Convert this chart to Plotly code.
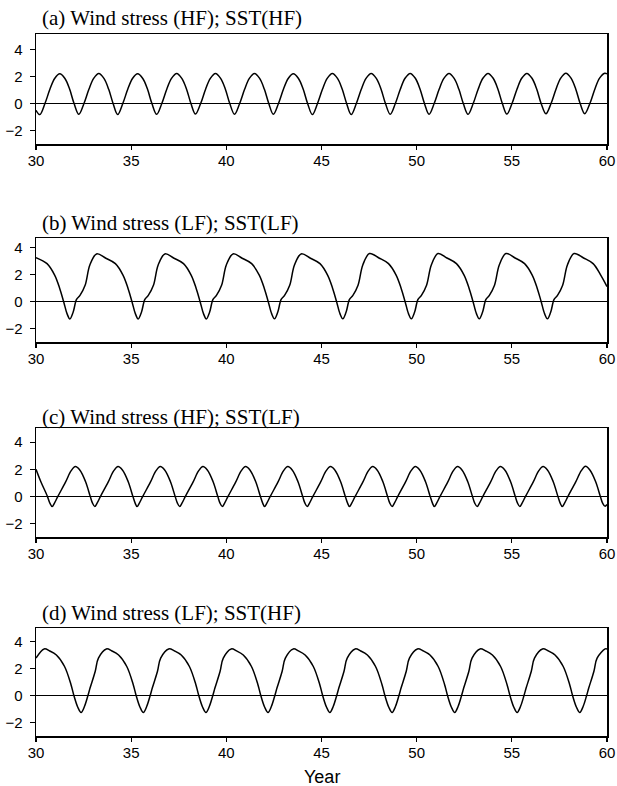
import plotly.graph_objects as go

# ---------------- data ----------------
titles = ["(a) Wind stress (HF); SST(HF)",
          "(b) Wind stress (LF); SST(LF)",
          "(c) Wind stress (HF); SST(LF)",
          "(d) Wind stress (LF); SST(HF)"]

x_ticks = [30, 35, 40, 45, 50, 55, 60]
y_ticks = [-2, 0, 2, 4]
x_label = "Year"

a_year = [30.0,
          30.2, 30.47, 30.73, 30.98, 31.25, 31.52, 31.77, 32.0,
          32.25, 32.52, 32.78, 33.03, 33.3, 33.57, 33.82, 34.05,
          34.29, 34.56, 34.82, 35.07, 35.34, 35.61, 35.86, 36.09,
          36.34, 36.61, 36.87, 37.12, 37.39, 37.66, 37.91, 38.14,
          38.38, 38.65, 38.91, 39.16, 39.43, 39.7, 39.95, 40.18,
          40.43, 40.7, 40.96, 41.21, 41.48, 41.75, 42.0, 42.23,
          42.47, 42.74, 43.0, 43.25, 43.52, 43.79, 44.04, 44.27,
          44.52, 44.79, 45.05, 45.3, 45.57, 45.84, 46.09, 46.32,
          46.56, 46.83, 47.09, 47.34, 47.61, 47.88, 48.13, 48.36,
          48.61, 48.88, 49.14, 49.39, 49.66, 49.93, 50.18, 50.41,
          50.65, 50.92, 51.18, 51.43, 51.7, 51.97, 52.22, 52.45,
          52.7, 52.97, 53.23, 53.48, 53.75, 54.02, 54.27, 54.5,
          54.74, 55.01, 55.27, 55.52, 55.79, 56.06, 56.31, 56.54,
          56.79, 57.06, 57.32, 57.57, 57.84, 58.11, 58.36, 58.59,
          58.83, 59.1, 59.36, 59.61, 59.88, 60.0]
a_val = [-0.5,
         -0.82, 0.0, 1.05, 1.85, 2.2, 1.85, 1.05, 0.0,
         -0.8, 0.0, 1.05, 1.86, 2.22, 1.86, 1.05, 0.0,
         -0.82, 0.0, 1.05, 1.85, 2.2, 1.85, 1.05, 0.0,
         -0.8, 0.0, 1.06, 1.86, 2.22, 1.86, 1.06, 0.0,
         -0.78, 0.0, 1.06, 1.86, 2.22, 1.86, 1.06, 0.0,
         -0.8, 0.0, 1.05, 1.86, 2.22, 1.86, 1.05, 0.0,
         -0.8, 0.0, 1.05, 1.85, 2.2, 1.85, 1.05, 0.0,
         -0.82, 0.0, 1.05, 1.86, 2.22, 1.86, 1.05, 0.0,
         -0.82, 0.0, 1.05, 1.86, 2.22, 1.86, 1.06, 0.0,
         -0.8, 0.0, 1.06, 1.87, 2.23, 1.87, 1.06, 0.0,
         -0.8, 0.0, 1.05, 1.86, 2.22, 1.86, 1.05, 0.0,
         -0.8, 0.0, 1.06, 1.87, 2.23, 1.87, 1.06, 0.0,
         -0.78, 0.0, 1.06, 1.87, 2.23, 1.87, 1.06, 0.0,
         -0.76, 0.0, 1.06, 1.88, 2.24, 1.88, 1.06, 0.0,
         -0.76, 0.0, 1.06, 1.88, 2.24, 2.2]

b_year = [30.0, 30.58, 30.98, 31.25, 31.45, 31.63, 31.78, 31.95, 32.13, 32.31, 32.58, 32.83, 33.18,
          33.67, 34.17, 34.57, 34.84, 35.04, 35.22, 35.37, 35.54, 35.72, 35.9, 36.17, 36.42, 36.77,
          37.25, 37.75, 38.15, 38.42, 38.62, 38.8, 38.95, 39.12, 39.3, 39.48, 39.75, 40.0, 40.35,
          40.83, 41.33, 41.73, 42.0, 42.2, 42.38, 42.53, 42.7, 42.88, 43.06, 43.33, 43.58, 43.93,
          44.42, 44.92, 45.32, 45.59, 45.79, 45.97, 46.12, 46.29, 46.47, 46.65, 46.92, 47.17, 47.52,
          48.02, 48.52, 48.92, 49.19, 49.39, 49.57, 49.72, 49.89, 50.07, 50.25, 50.52, 50.77, 51.12,
          51.59, 52.09, 52.49, 52.76, 52.96, 53.14, 53.29, 53.46, 53.64, 53.82, 54.09, 54.34, 54.69,
          55.17, 55.67, 56.07, 56.34, 56.54, 56.72, 56.87, 57.04, 57.22, 57.4, 57.67, 57.92, 58.27,
          58.77, 59.27, 59.67, 60.0]
b_val = [3.25, 2.8, 1.95, 0.95, 0.0, -0.9, -1.3, -0.8, 0.15, 0.45, 1.2, 2.7, 3.52,
         3.2, 2.8, 1.95, 0.95, 0.0, -0.9, -1.3, -0.8, 0.15, 0.45, 1.2, 2.7, 3.52,
         3.2, 2.8, 1.95, 0.95, 0.0, -0.9, -1.3, -0.8, 0.15, 0.45, 1.2, 2.7, 3.52,
         3.2, 2.8, 1.95, 0.95, 0.0, -0.9, -1.28, -0.8, 0.15, 0.45, 1.2, 2.7, 3.52,
         3.2, 2.8, 1.95, 0.95, 0.0, -0.9, -1.28, -0.8, 0.15, 0.45, 1.2, 2.7, 3.55,
         3.22, 2.8, 1.95, 0.95, 0.0, -0.9, -1.28, -0.8, 0.15, 0.45, 1.2, 2.7, 3.55,
         3.22, 2.8, 1.95, 0.95, 0.0, -0.9, -1.28, -0.8, 0.15, 0.45, 1.2, 2.7, 3.55,
         3.22, 2.8, 1.95, 0.95, 0.0, -0.9, -1.28, -0.8, 0.15, 0.45, 1.2, 2.7, 3.55,
         3.22, 2.8, 1.95, 1.1]

c_year = [30.0, 30.25, 30.6, 30.73,
          30.85, 30.97, 31.15, 31.55, 31.85, 32.07, 32.3, 32.6, 32.85, 32.97,
          33.09, 33.21, 33.39, 33.79, 34.09, 34.31, 34.54, 34.84, 35.09, 35.21,
          35.31, 35.43, 35.61, 36.01, 36.31, 36.53, 36.76, 37.06, 37.31, 37.43,
          37.55, 37.67, 37.85, 38.25, 38.55, 38.77, 39.0, 39.3, 39.55, 39.67,
          39.79, 39.91, 40.09, 40.49, 40.79, 41.01, 41.24, 41.54, 41.79, 41.91,
          42.01, 42.13, 42.31, 42.71, 43.01, 43.23, 43.46, 43.76, 44.01, 44.13,
          44.25, 44.37, 44.55, 44.95, 45.25, 45.47, 45.7, 46.0, 46.25, 46.37,
          46.47, 46.59, 46.77, 47.17, 47.47, 47.69, 47.92, 48.22, 48.47, 48.59,
          48.71, 48.83, 49.01, 49.41, 49.71, 49.93, 50.16, 50.46, 50.71, 50.83,
          50.93, 51.05, 51.23, 51.63, 51.93, 52.15, 52.38, 52.68, 52.93, 53.05,
          53.18, 53.3, 53.48, 53.88, 54.18, 54.4, 54.63, 54.93, 55.18, 55.3,
          55.42, 55.54, 55.72, 56.12, 56.42, 56.64, 56.87, 57.17, 57.42, 57.54,
          57.65, 57.77, 57.95, 58.35, 58.65, 58.87, 59.1, 59.4, 59.65, 59.77,
          59.89, 60.0]
c_val = [2.0, 1.1, 0.0, -0.5,
         -0.75, -0.5, 0.0, 1.05, 1.9, 2.2, 1.95, 1.1, 0.0, -0.5,
         -0.75, -0.5, 0.0, 1.05, 1.9, 2.2, 1.95, 1.1, 0.0, -0.5,
         -0.75, -0.5, 0.0, 1.05, 1.9, 2.2, 1.95, 1.1, 0.0, -0.5,
         -0.75, -0.5, 0.0, 1.05, 1.9, 2.2, 1.95, 1.1, 0.0, -0.5,
         -0.75, -0.5, 0.0, 1.05, 1.9, 2.2, 1.95, 1.1, 0.0, -0.5,
         -0.75, -0.5, 0.0, 1.05, 1.9, 2.2, 1.95, 1.1, 0.0, -0.5,
         -0.75, -0.5, 0.0, 1.05, 1.9, 2.2, 1.95, 1.1, 0.0, -0.5,
         -0.75, -0.5, 0.0, 1.05, 1.9, 2.2, 1.95, 1.1, 0.0, -0.5,
         -0.75, -0.5, 0.0, 1.05, 1.9, 2.2, 1.95, 1.1, 0.0, -0.5,
         -0.75, -0.5, 0.0, 1.05, 1.9, 2.2, 1.95, 1.1, 0.0, -0.5,
         -0.75, -0.5, 0.0, 1.05, 1.9, 2.2, 1.95, 1.1, 0.0, -0.5,
         -0.75, -0.5, 0.0, 1.05, 1.9, 2.2, 1.95, 1.1, 0.0, -0.5,
         -0.75, -0.5, 0.0, 1.05, 1.9, 2.22, 1.95, 1.1, 0.0, -0.5,
         -0.72, -0.6]

d_year = [30.0, 30.43, 30.72, 31.07, 31.5, 31.84, 31.99, 32.19, 32.37, 32.55, 32.73, 32.84, 33.11, 33.28, 33.7,
          33.99, 34.34, 34.77, 35.11, 35.26, 35.46, 35.64, 35.82, 36.0, 36.11, 36.38, 36.55, 36.97,
          37.28, 37.63, 38.06, 38.4, 38.55, 38.75, 38.93, 39.11, 39.29, 39.4, 39.67, 39.84, 40.26,
          40.54, 40.89, 41.32, 41.66, 41.81, 42.01, 42.19, 42.37, 42.55, 42.66, 42.93, 43.1, 43.52,
          43.79, 44.14, 44.57, 44.91, 45.06, 45.26, 45.44, 45.62, 45.8, 45.91, 46.18, 46.35, 46.77,
          47.06, 47.41, 47.84, 48.18, 48.33, 48.53, 48.71, 48.89, 49.07, 49.18, 49.45, 49.62, 50.04,
          50.35, 50.7, 51.13, 51.47, 51.62, 51.82, 52.0, 52.18, 52.36, 52.47, 52.74, 52.91, 53.33,
          53.63, 53.98, 54.41, 54.75, 54.9, 55.1, 55.28, 55.46, 55.64, 55.75, 56.02, 56.19, 56.61,
          56.92, 57.27, 57.7, 58.04, 58.19, 58.39, 58.57, 58.75, 58.93, 59.04, 59.31, 59.48, 59.9,
          60.0]
d_val = [2.77, 3.45, 3.3, 3.0, 2.15, 0.8, 0.0, -0.85, -1.26, -0.8, 0.0, 0.55, 1.78, 2.77, 3.45,
         3.3, 3.0, 2.15, 0.8, 0.0, -0.85, -1.26, -0.8, 0.0, 0.55, 1.78, 2.77, 3.45,
         3.3, 3.0, 2.15, 0.8, 0.0, -0.85, -1.26, -0.8, 0.0, 0.55, 1.78, 2.77, 3.45,
         3.3, 3.0, 2.15, 0.8, 0.0, -0.85, -1.26, -0.8, 0.0, 0.55, 1.78, 2.77, 3.45,
         3.3, 3.0, 2.15, 0.8, 0.0, -0.85, -1.26, -0.8, 0.0, 0.55, 1.78, 2.77, 3.45,
         3.3, 3.0, 2.15, 0.8, 0.0, -0.85, -1.26, -0.8, 0.0, 0.55, 1.78, 2.77, 3.45,
         3.3, 3.0, 2.15, 0.8, 0.0, -0.85, -1.26, -0.8, 0.0, 0.55, 1.78, 2.77, 3.45,
         3.3, 3.0, 2.15, 0.8, 0.0, -0.85, -1.26, -0.8, 0.0, 0.55, 1.78, 2.77, 3.45,
         3.3, 3.0, 2.15, 0.8, 0.0, -0.85, -1.26, -0.8, 0.0, 0.55, 1.78, 2.77, 3.45,
         3.45]

y_ranges = [[-3, 5.15], [-3, 4.7], [-3, 5.05], [-3, 5.0]]

# ---------------- figure ----------------
W, H = 617, 786
ML, MR = 36, 10
PW = W - ML - MR
# panel frames in page pixels (top, bottom)
frames = [(34, 144), (238, 342), (428, 537), (628, 736)]
title_y = [18, 223, 417, 613]

series = [(a_year, a_val), (b_year, b_val), (c_year, c_val), (d_year, d_val)]

fig = go.Figure()
tick_font = dict(family="Liberation Sans, Arial, sans-serif", size=15, color="black")

layout = dict(
    width=W, height=H,
    margin=dict(l=ML, r=MR, t=0, b=0),
    paper_bgcolor="white", plot_bgcolor="white",
    showlegend=False,
    annotations=[],
)

for i, (xs, ys) in enumerate(series):
    suffix = "" if i == 0 else str(i + 1)
    fig.add_trace(go.Scatter(
        x=xs, y=ys, mode="lines",
        line=dict(color="black", width=1.5, shape="spline", smoothing=1.0),
        xaxis="x" + suffix, yaxis="y" + suffix, hoverinfo="skip",
    ))
    top, bot = frames[i]
    dom = [1 - bot / H, 1 - top / H]
    layout["xaxis" + suffix] = dict(
        domain=[0, 1], anchor="y" + suffix, range=[30, 60],
        tickvals=x_ticks, ticks="outside", ticklen=4, tickwidth=1.2, tickcolor="black",
        ticklabelstandoff=-2,
        showline=True, mirror=True, linecolor="black", linewidth=1.5,
        showgrid=False, zeroline=False, tickfont=tick_font, automargin=False,
    )
    layout["yaxis" + suffix] = dict(
        domain=dom, anchor="x" + suffix, range=y_ranges[i],
        tickvals=y_ticks, ticks="outside", ticklen=5, tickwidth=1.2, tickcolor="black",
        ticklabelstandoff=4,
        showline=True, mirror=True, linecolor="black", linewidth=1.5,
        showgrid=False, zeroline=True, zerolinecolor="black", zerolinewidth=1,
        tickfont=tick_font, automargin=False,
    )
    layout["annotations"].append(dict(
        text=titles[i], xref="paper", yref="paper",
        x=(40 - ML) / PW, y=1 - title_y[i] / H,
        xanchor="left", yanchor="middle", showarrow=False,
        font=dict(family="Liberation Serif, Times New Roman, serif", size=21, color="black"),
    ))

layout["annotations"].append(dict(
    text=x_label, xref="paper", yref="paper",
    x=(322 - ML) / PW, y=1 - 777 / H,
    xanchor="center", yanchor="middle", showarrow=False,
    font=dict(family="Liberation Sans, Arial, sans-serif", size=18, color="black"),
))

fig.update_layout(**layout)
fig.write_html("out.html", config={"displayModeBar": False, "staticPlot": True},
               post_script="document.body.style.margin='0px';")
